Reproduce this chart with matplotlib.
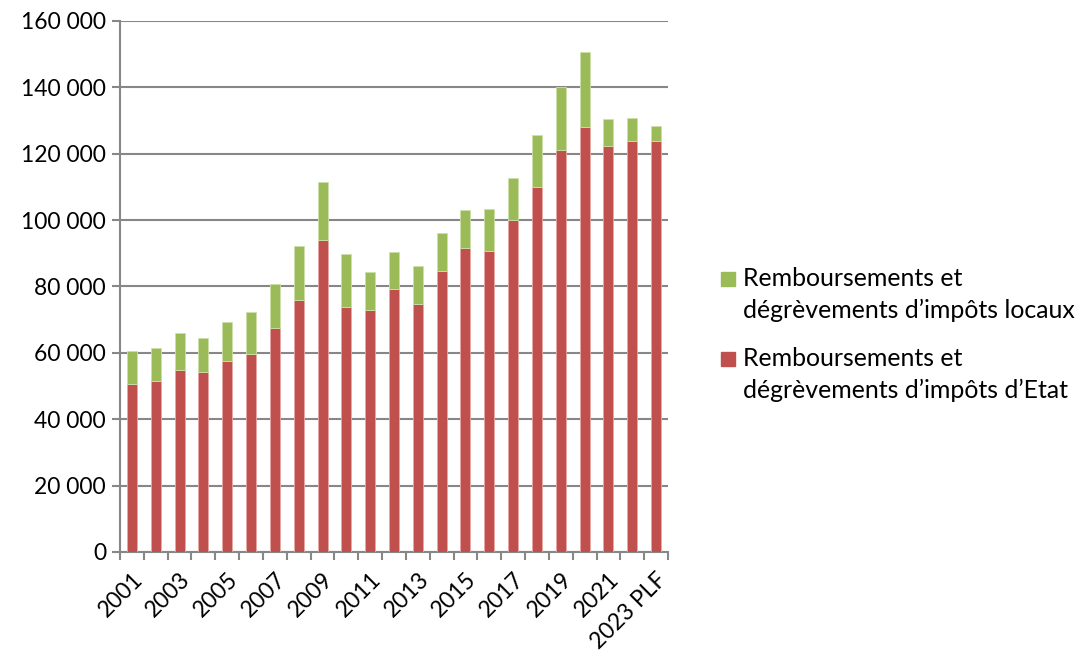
import matplotlib.pyplot as plt
from matplotlib.ticker import FuncFormatter, FixedLocator
from matplotlib.patches import Rectangle

plt.rcParams['font.family'] = ['Lato', 'DejaVu Sans']

# Données (en millions d'euros)
annees = [str(a) for a in range(2001, 2023)] + ['2023 PLF']
etat = [50.5, 51.5, 54.7, 54.2, 57.6, 59.6, 67.6, 75.9, 94.0, 73.7, 72.8, 79.2,
        74.6, 84.6, 91.6, 90.6, 99.9, 110.0, 121.1, 128.0, 122.3, 123.8, 123.7]
total = [60.7, 61.4, 66.0, 64.5, 69.4, 72.2, 80.9, 92.1, 111.6, 89.9, 84.3, 90.4,
         86.1, 96.1, 103.1, 103.2, 112.6, 125.7, 140.1, 150.8, 130.4, 130.7, 128.3]
etat = [v * 1000 for v in etat]
locaux = [t * 1000 - e for t, e in zip(total, etat)]

label_locaux = ['Remboursements et', 'dégrèvements d\u2019impôts locaux']
label_etat = ['Remboursements et', 'dégrèvements d\u2019impôts d\u2019Etat']

rouge = '#C0504D'
vert = '#9BBB59'
gris = '#878787'

W, H = 1083, 652
fig = plt.figure(figsize=(W / 100, H / 100), dpi=100)
ax = fig.add_axes([0.1108, 0.1534, 0.5060, 0.8144])

x = list(range(len(annees)))
ax.bar(x, etat, width=0.42, color=rouge, edgecolor='#E8A8A6', linewidth=0.6, zorder=3)
ax.bar(x, locaux, bottom=etat, width=0.42, color=vert, edgecolor='#CDE0A8',
       linewidth=0.6, zorder=3)

ax.set_xlim(-0.5, len(annees) - 0.5)
ax.set_ylim(0, 160000)
ax.set_yticks(range(0, 160001, 20000))
ax.yaxis.set_major_formatter(FuncFormatter(lambda v, p: f'{int(v):,}'.replace(',', ' ')))
ax.grid(axis='y', color=gris, linewidth=1.5, zorder=0)

# ticks between categories, labels every other year
ax.xaxis.set_major_locator(FixedLocator([i - 0.5 for i in range(len(annees) + 1)]))
ax.xaxis.set_major_formatter(FuncFormatter(lambda v, p: ''))
ax.set_xticks(x[::2], minor=True)
ax.set_xticklabels(annees[::2], minor=True, rotation=45, ha='right',
                   rotation_mode='anchor', fontsize=16.5)
ax.tick_params(axis='x', which='minor', length=0, pad=12)
ax.tick_params(axis='x', which='major', length=6, width=1.5, color=gris, direction='out')
ax.tick_params(axis='y', length=6, width=1.5, color=gris, labelsize=16.5, pad=4)

for s in ['top', 'right']:
    ax.spines[s].set_visible(False)
for s in ['left', 'bottom']:
    ax.spines[s].set_color(gris)
    ax.spines[s].set_linewidth(1.5)

# legend drawn by hand: square aligned with the first line, as in Excel
baseline = 286
for color, lines in [(vert, label_locaux), (rouge, label_etat)]:
    fig.add_artist(Rectangle((721 / W, 1 - baseline / H), 14 / W, 14 / H,
                             transform=fig.transFigure, color=color))
    for k, line in enumerate(lines):
        fig.text(743 / W, 1 - (baseline + 32 * k) / H, line, fontsize=17.9,
                 va='baseline', ha='left')
    baseline += 80

fig.savefig('out.png', dpi=100)
